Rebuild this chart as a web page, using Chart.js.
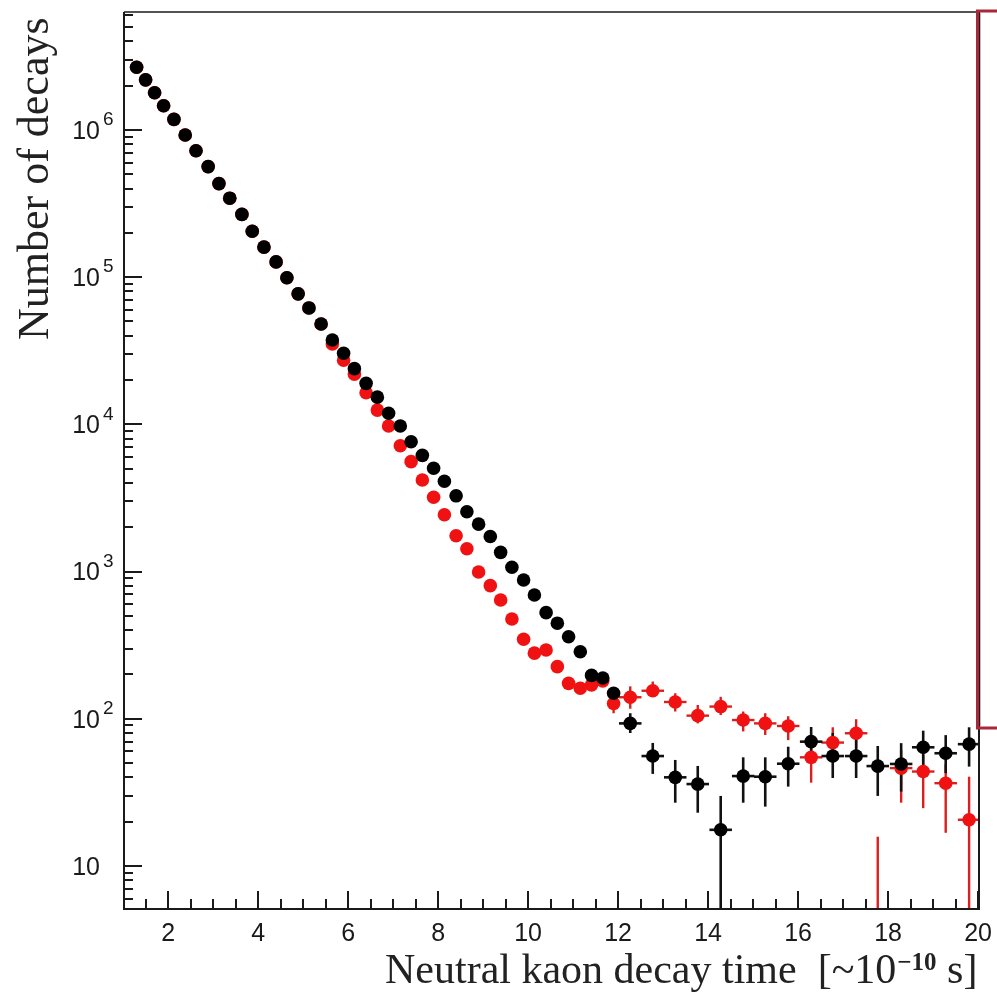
<!DOCTYPE html>
<html>
<head>
<meta charset="utf-8">
<script src="https://cdn.jsdelivr.net/npm/chart.js@4.4.1/dist/chart.umd.min.js"></script>
<style>
  html, body { margin: 0; padding: 0; background: #fff; }
  #wrap { width: 997px; height: 999px; position: relative; }
</style>
</head>
<body>
<div id="wrap"><canvas id="kaonChart" width="997" height="999"></canvas></div>
<script>
// bin centres (units of ~1e-10 s)
const binCenters = [
  1.30, 1.50, 1.70, 1.90, 2.13, 2.38, 2.62, 2.89, 3.13, 3.37,
  3.64, 3.87, 4.13, 4.40, 4.64, 4.89, 5.13, 5.40, 5.65, 5.90,
  6.14, 6.40, 6.65, 6.90, 7.16, 7.40, 7.65, 7.90, 8.14, 8.40,
  8.64, 8.90, 9.16, 9.39, 9.64, 9.90, 10.14, 10.40, 10.65, 10.90,
  11.16, 11.41, 11.66, 11.90, 12.27, 12.77, 13.27, 13.77, 14.28, 14.78,
  15.27, 15.78, 16.29, 16.77, 17.29, 17.77, 18.29, 18.78, 19.28, 19.80
];

// half bin width, only where the horizontal bar sticks out of the marker
const binHalfWidth = [
  null, null, null, null, null, null, null, null, null, null,
  null, null, null, null, null, null, null, null, null, null,
  null, null, null, null, null, null, null, null, null, null,
  null, null, null, null, null, null, null, null, null, null,
  null, null, null, null, 0.25, 0.25, 0.25, 0.25, 0.25, 0.25,
  0.25, 0.25, 0.25, 0.25, 0.25, 0.25, 0.25, 0.25, 0.25, 0.25
];

// black series
const blackCounts = [
  2.67e6, 2.19e6, 1.79e6, 1.46e6, 1.18e6, 9.25e5, 7.23e5, 5.64e5, 4.32e5, 3.44e5,
  2.67e5, 2.05e5, 1.60e5, 1.27e5, 9.9e4, 7.7e4, 6.18e4, 4.81e4, 3.74e4, 3.04e4,
  2.39e4, 1.90e4, 1.53e4, 1.19e4, 9750, 7620, 6160, 5030, 4110, 3270,
  2550, 2100, 1730, 1350, 1070, 877, 693, 526, 446, 361,
  285, 197, 189, 149, 93, 55.8, 40, 36, 17.6, 40.8,
  40.4, 49.5, 69.9, 55.8, 55.8, 47.7, 49.3, 64, 58.3, 67.2
];
const blackErrLow = [
  null, null, null, null, null, null, null, null, null, null,
  null, null, null, null, null, null, null, null, null, null,
  null, null, null, null, null, null, null, null, null, null,
  null, null, null, null, null, null, null, null, null, null,
  null, null, null, null, 80, 42.2, 26.9, 23.0, 0, 26.9,
  25.3, 34.6, 54.1, 39.6, 39.6, 29.9, 32, 48.6, 42.7, 47.3
];
const blackErrHigh = [
  null, null, null, null, null, null, null, null, null, null,
  null, null, null, null, null, null, null, null, null, null,
  null, null, null, null, null, null, null, null, null, null,
  null, null, null, null, null, null, null, null, null, null,
  null, null, null, null, 109, 68.5, 52.5, 47.8, 29.9, 54.7,
  54.7, 64.6, 87.9, 80, 79, 65.3, 68.3, 83, 77.4, 87.5
];

// red series
const redCounts = [
  2.67e6, 2.19e6, 1.79e6, 1.46e6, 1.18e6, 9.25e5, 7.23e5, 5.64e5, 4.32e5, 3.44e5,
  2.67e5, 2.05e5, 1.60e5, 1.27e5, 9.9e4, 7.7e4, 6.18e4, 4.81e4, 3.52e4, 2.73e4,
  2.19e4, 1.64e4, 1.25e4, 9750, 7160, 5580, 4190, 3200, 2430, 1750,
  1430, 994, 802, 641, 476, 347, 279, 293, 226, 174,
  161, 170, 181, 127, 140, 155, 130, 105, 121, 98,
  93, 89.3, 54.7, 68.9, 79.7, null, 46.2, 43.8, 36.5, 20.6
];
const redErrLow = [
  null, null, null, null, null, null, null, null, null, null,
  null, null, null, null, null, null, null, null, null, null,
  null, null, null, null, null, null, null, null, null, null,
  null, null, null, null, null, null, null, null, null, null,
  null, null, null, 109, 117, 141, 112, 93, 106, 82,
  77.6, 71.6, 36.8, 52.5, 63, 0, 26.9, 24.7, 16.8, 0
];
const redErrHigh = [
  null, null, null, null, null, null, null, null, null, null,
  null, null, null, null, null, null, null, null, null, null,
  null, null, null, null, null, null, null, null, null, null,
  null, null, null, null, null, null, null, null, null, null,
  null, null, null, 156, 166, 179, 149, 124, 141, 112,
  109, 104, 75.5, 87.5, 99.3, 15.8, 61.4, 56.8, 49, 40.4
];

const xMajorTicks = [2, 4, 6, 8, 10, 12, 14, 16, 18, 20];
const yDecades = [1, 2, 3, 4, 5, 6];

const toPoints = (counts) => binCenters.map((x, i) => ({ x: x, y: counts[i] }));

// error bars, frame, ticks and labels drawn the ROOT way
const rootStyle = {
  id: "rootStyle",
  beforeDatasetsDraw(chart) {
    const ctx = chart.ctx;
    const area = chart.chartArea;
    const xs = chart.scales.x;
    const ys = chart.scales.y;
    ctx.save();
    ctx.beginPath();
    ctx.rect(area.left, area.top, area.right - area.left, area.bottom - area.top);
    ctx.clip();
    // red first, black on top
    [1, 0].forEach((di) => {
      const ds = chart.data.datasets[di];
      ctx.strokeStyle = ds.barColor;
      ctx.lineWidth = ds.barWidth;
      binCenters.forEach((xv, i) => {
        const px = xs.getPixelForValue(xv);
        if (ds.errHigh[i] != null) {
          const yHi = ys.getPixelForValue(ds.errHigh[i]);
          const yLo = ds.errLow[i] > 0 ? ys.getPixelForValue(ds.errLow[i]) : area.bottom + 5;
          ctx.beginPath();
          ctx.moveTo(px, yHi);
          ctx.lineTo(px, yLo);
          ctx.stroke();
        }
        if (binHalfWidth[i] != null && ds.counts[i] != null) {
          const py = ys.getPixelForValue(ds.counts[i]);
          ctx.beginPath();
          ctx.moveTo(xs.getPixelForValue(xv - binHalfWidth[i]), py);
          ctx.lineTo(xs.getPixelForValue(xv + binHalfWidth[i]), py);
          ctx.stroke();
        }
      });
    });
    ctx.restore();
  },
  afterDraw(chart) {
    const ctx = chart.ctx;
    const area = chart.chartArea;
    const xs = chart.scales.x;
    const ys = chart.scales.y;
    ctx.save();
    ctx.strokeStyle = "#1a1a1a";
    ctx.fillStyle = "#1a1a1a";

    // frame
    ctx.lineWidth = 2;
    ctx.beginPath();
    ctx.moveTo(area.left, area.top);
    ctx.lineTo(area.left, area.bottom);
    ctx.lineTo(area.right, area.bottom);
    ctx.lineTo(area.right, area.top);
    ctx.stroke();
    ctx.lineWidth = 1.5;
    ctx.beginPath();
    ctx.moveTo(area.left, area.top);
    ctx.lineTo(area.right, area.top);
    ctx.stroke();

    // x ticks, every 0.5, pointing into the plot
    ctx.lineWidth = 2;
    for (let v = 1.5; v <= 20.01; v += 0.5) {
      const px = Math.round(xs.getPixelForValue(v));
      const len = Math.abs(v % 2) < 1e-6 ? 18 : 10;
      ctx.beginPath();
      ctx.moveTo(px, area.bottom);
      ctx.lineTo(px, area.bottom - len);
      ctx.stroke();
    }

    // y ticks, log minors
    for (let d = 0; d <= 6; d++) {
      for (let m = 1; m <= 9; m++) {
        const v = m * Math.pow(10, d);
        if (v < ys.min || v > ys.max) continue;
        const py = Math.round(ys.getPixelForValue(v));
        ctx.beginPath();
        ctx.moveTo(area.left, py);
        ctx.lineTo(area.left + (m === 1 ? 18 : 9), py);
        ctx.stroke();
      }
    }

    // x tick labels
    ctx.font = "25px 'Liberation Sans', Arial, sans-serif";
    ctx.textAlign = "center";
    ctx.textBaseline = "middle";
    xMajorTicks.forEach((v) => {
      ctx.fillText(String(v), xs.getPixelForValue(v), area.bottom + 25);
    });

    // y tick labels 10^n
    yDecades.forEach((d) => {
      const py = ys.getPixelForValue(Math.pow(10, d));
      ctx.font = "25px 'Liberation Sans', Arial, sans-serif";
      ctx.textAlign = "right";
      ctx.textBaseline = "middle";
      ctx.fillText("10", 100, py + 2);
      if (d > 1) {
        ctx.font = "19px 'Liberation Sans', Arial, sans-serif";
        ctx.textAlign = "left";
        ctx.fillText(String(d), 103, py - 10);
      }
    });

    // axis titles
    ctx.fillStyle = "#222";
    ctx.textBaseline = "alphabetic";
    ctx.textAlign = "left";
    ctx.font = "42px 'Liberation Serif', 'Times New Roman', serif";
    const mainPart = "Neutral kaon decay time  [~10";
    let tx = 385;
    ctx.fillText(mainPart, tx, 983);
    tx += ctx.measureText(mainPart).width + 1;
    ctx.font = "bold 25px 'Liberation Serif', 'Times New Roman', serif";
    ctx.fillText("\u221210", tx, 970);
    tx += ctx.measureText("\u221210").width;
    ctx.font = "42px 'Liberation Serif', 'Times New Roman', serif";
    ctx.fillText(" s]", tx, 983);

    ctx.save();
    ctx.translate(48, 340);
    ctx.rotate(-Math.PI / 2);
    ctx.font = "44px 'Liberation Serif', 'Times New Roman', serif";
    ctx.fillText("Number of decays", 0, 0);
    ctx.restore();

    // edge of the neighbouring red pad
    ctx.strokeStyle = "#a8283a";
    ctx.lineWidth = 3;
    ctx.beginPath();
    ctx.moveTo(997, 11);
    ctx.lineTo(977.5, 11);
    ctx.lineTo(977.5, 728);
    ctx.lineTo(997, 728);
    ctx.stroke();
    ctx.strokeStyle = "rgba(120,120,120,0.5)";
    ctx.lineWidth = 1;
    ctx.beginPath();
    ctx.moveTo(980.5, 13);
    ctx.lineTo(980.5, 726);
    ctx.stroke();

    ctx.restore();
  }
};

const chartKaon = new Chart(document.getElementById("kaonChart"), {
  type: "scatter",
  data: {
    datasets: [
      {
        label: "black",
        data: toPoints(blackCounts),
        counts: blackCounts,
        errLow: blackErrLow,
        errHigh: blackErrHigh,
        barColor: "#111",
        barWidth: 2.6,
        backgroundColor: "#000",
        borderWidth: 0,
        pointRadius: 6.8,
        pointHoverRadius: 6.8,
      },
      {
        label: "red",
        data: toPoints(redCounts),
        counts: redCounts,
        errLow: redErrLow,
        errHigh: redErrHigh,
        barColor: "#d8201e",
        barWidth: 2.4,
        backgroundColor: "#f01212",
        borderWidth: 0,
        pointRadius: 6.8,
        pointHoverRadius: 6.8,
      },
    ],
  },
  options: {
    responsive: false,
    animation: false,
    events: [],
    layout: { padding: { left: 124, right: 18, top: 12, bottom: 90 } },
    plugins: {
      legend: { display: false },
      tooltip: { enabled: false },
      title: { display: false },
    },
    scales: {
      x: { type: "linear", min: 1.02, max: 20.02, display: false },
      y: { type: "logarithmic", min: 5.1, max: 6.33e6, display: false },
    },
  },
  plugins: [rootStyle],
});
</script>
</body>
</html>
